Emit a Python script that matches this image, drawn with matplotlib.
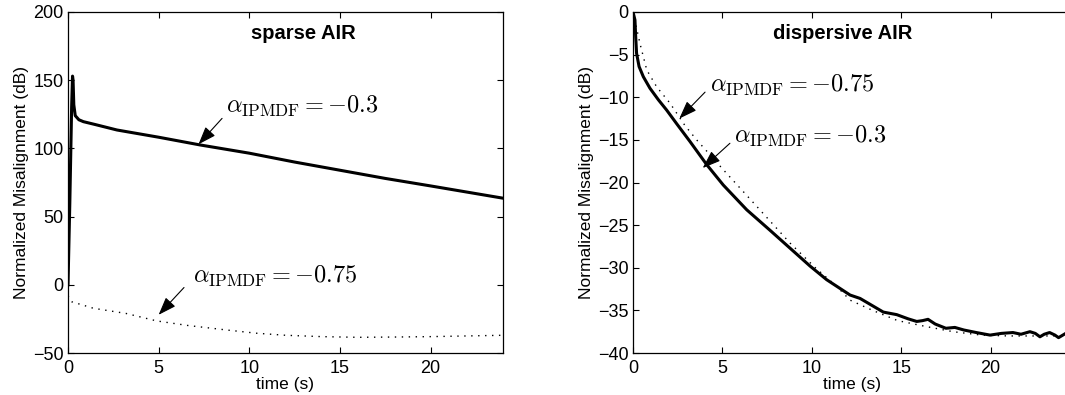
import matplotlib
matplotlib.use("Agg")
import matplotlib.pyplot as plt

plt.rcParams['font.family'] = ['Liberation Sans', 'DejaVu Sans']
plt.rcParams['mathtext.fontset'] = 'cm'

# ---------------- data: sparse AIR ----------------
sparse_t_a = [0.0, 0.1, 0.2, 0.25, 0.28, 0.32, 0.4, 0.6, 0.85, 1.5, 2.7, 5.0, 7.3, 10.0, 12.5, 15.0, 17.5, 20.0, 22.0, 24.0]
sparse_y_a = [0.0, 60.0, 130.0, 153.0, 150.0, 132.0, 124.0, 121.0, 119.6, 117.5, 113.5, 108.2, 102.5, 96.5, 90.0, 84.0, 78.0, 72.5, 68.0, 63.5]

sparse_t_b = [0.0, 0.2, 1.4, 3.2, 4.9, 6.6, 8.8, 10.4, 12.0, 14.0, 16.0, 18.0, 20.0, 22.0, 24.0]
sparse_y_b = [-8.0, -12.4, -17.2, -21.0, -26.5, -29.8, -33.2, -35.5, -37.0, -38.0, -38.5, -38.3, -38.0, -37.5, -37.0]

# ---------------- data: dispersive AIR ----------------
disp_t_a = [0.0, 0.11, 0.15, 0.2, 0.34, 0.58, 0.95, 1.42, 1.88, 2.44, 3.19, 4.12, 5.05, 6.36, 7.66, 8.78,
            9.9, 10.83, 12.14, 12.7, 14.0, 14.75,
            15.4, 15.87, 16.2, 16.5, 16.9, 17.5, 18.0, 18.5, 19.2, 19.97, 20.6, 21.25, 21.7, 22.2, 22.5,
            22.76, 23.0, 23.3, 23.6, 23.8, 24.2]
disp_y_a = [0.0, -0.94, -2.9, -4.85, -6.4, -7.6, -8.95, -10.3, -11.5, -13.1, -15.2, -17.9, -20.3, -23.2, -25.6, -27.7,
            -29.8, -31.4, -33.2, -33.6, -35.2, -35.5,
            -36.0, -36.3, -36.2, -36.05, -36.6, -37.1, -37.0, -37.3, -37.6, -37.9, -37.7, -37.6, -37.8, -37.5, -37.7,
            -38.1, -37.8, -37.6, -37.9, -38.2, -37.7]

disp_t_b = [0.0, 0.39, 0.77, 1.33, 2.07, 2.9, 3.56, 5.05, 6.92, 8.78, 10.2, 11.4, 12.14, 13.4, 14.8, 16.4, 17.9, 19.5, 21.0, 22.5, 24.2]
disp_y_b = [0.0, -3.7, -6.8, -8.8, -10.7, -13.3, -15.0, -18.5, -22.8, -27.1, -30.0, -32.2, -33.8, -35.0, -36.2, -36.9, -37.5, -37.9, -38.0, -38.0, -38.0]

x_ticks = [0, 5, 10, 15, 20]
sparse_yticks = [-50, 0, 50, 100, 150, 200]
disp_yticks = [-40, -35, -30, -25, -20, -15, -10, -5, 0]

W, H = 1065, 395
fig = plt.figure(figsize=(W / 100, H / 100), dpi=100)

def box(l, t, r, b):
    return [l / W, 1 - b / H, (r - l) / W, (b - t) / H]

ax1 = fig.add_axes(box(68, 12, 503, 353))
ax2 = fig.add_axes(box(633, 12, 633 + 24.5 * 17.88, 353))

for ax in (ax1, ax2):
    ax.tick_params(direction='in', top=True, right=True, length=4, width=0.8, labelsize=13)
    ax.tick_params(axis='x', pad=5)
    ax.tick_params(axis='y', pad=3)
    for s in ax.spines.values():
        s.set_linewidth(0.9)
    ax.set_xticks(x_ticks)
    ax.set_xlabel('time (s)', fontsize=12.5, labelpad=0)
    ax.set_ylabel('Normalized Misalignment (dB)', fontsize=12.5, labelpad=3)

dots = (0, (1, 4))

# left
ax1.plot(sparse_t_a, sparse_y_a, color='black', lw=2.2, solid_joinstyle='round')
ax1.plot(sparse_t_b, sparse_y_b, color='black', lw=1.0, linestyle=dots)
ax1.set_xlim(0, 24)
ax1.set_ylim(-50, 200)
ax1.set_yticks(sparse_yticks)
ax1.text(13.0, 184.5, 'sparse AIR', ha='center', va='center', fontsize=14.5, fontweight='bold')

arrow = dict(arrowstyle='-|>,head_length=1.1,head_width=0.4', color='black', lw=0.8, shrinkA=0, shrinkB=0)
ax1.annotate('', xy=(7.2, 103), xytext=(8.5, 122), arrowprops=arrow)
ax1.text(8.7, 126, r'$\alpha_{\mathrm{IPMDF}} = -0.3$', fontsize=17.5, ha='left', va='baseline')
ax1.annotate('', xy=(5.0, -22), xytext=(6.4, -2), arrowprops=arrow)
ax1.text(6.9, 1.3, r'$\alpha_{\mathrm{IPMDF}} = -0.75$', fontsize=17.5, ha='left', va='baseline')

# right
ax2.plot(disp_t_a, disp_y_a, color='black', lw=2.2, solid_joinstyle='round')
ax2.plot(disp_t_b, disp_y_b, color='black', lw=1.0, linestyle=dots)
ax2.set_xlim(0, 24.5)
ax2.set_ylim(-40, 0)
ax2.set_yticks(disp_yticks)
ax2.text(11.75, -2.5, 'dispersive AIR', ha='center', va='center', fontsize=14.5, fontweight='bold')
ax2.annotate('', xy=(2.59, -12.5), xytext=(4.03, -9.4), arrowprops=arrow)
ax2.text(4.3, -9.35, r'$\alpha_{\mathrm{IPMDF}} = -0.75$', fontsize=17.5, ha='left', va='baseline')
ax2.annotate('', xy=(3.9, -18.3), xytext=(5.42, -15.4), arrowprops=arrow)
ax2.text(5.65, -15.4, r'$\alpha_{\mathrm{IPMDF}} = -0.3$', fontsize=17.5, ha='left', va='baseline')

fig.savefig('out.png', dpi=100)
